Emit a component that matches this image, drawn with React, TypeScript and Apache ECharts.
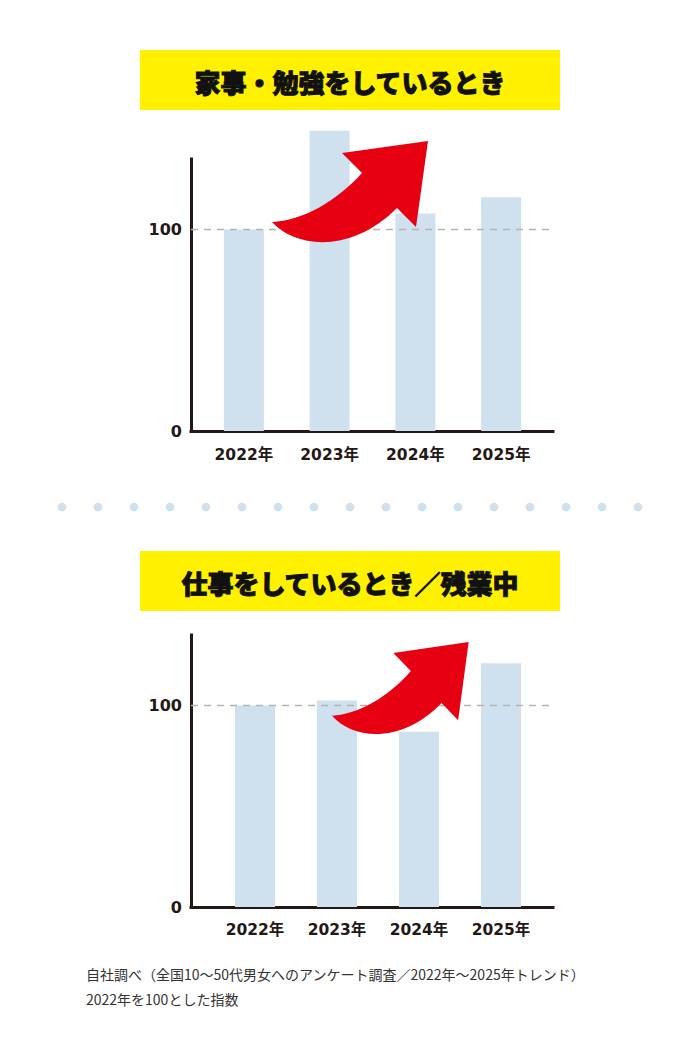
import { useEffect, useRef } from "react";
import * as echarts from "echarts";

const YEARS = ["2022年", "2023年", "2024年", "2025年"];
const STUDY_INDEX = [100, 149, 108, 116];
const WORK_INDEX = [100, 102.5, 87, 121];
const BASE_VALUE = 100;
const Y_MAX = 135;
const TITLES = ["家事・勉強をしているとき", "仕事をしているとき／残業中"];
const NOTES = [
  "自社調べ（全国10～50代男女へのアンケート調査／2022年～2025年トレンド）",
  "2022年を100とした指数",
];

const INK = "#231815";
const BAR = "#cfe0ee";
const RED = "#e60012";
const YELLOW = "#fff100";
const NUM_FONT = "'DejaVu Sans', 'Noto Sans CJK JP', sans-serif";
const JP_FONT = "'Noto Sans CJK JP', sans-serif";

// curved "rising" arrow, drawn in its own box (tip at top right)
const ARROW_D = "M0 81 C25 108 80 112 125 67 L144 86 L156 0 L70 12 L90 32 C65 60 30 80 0 81 Z";
echarts.graphic.registerShape("upArrow", echarts.graphic.extendPath(ARROW_D, {}));

// each panel: a frame grid for the axes and a narrower grid the bars sit in
const PANELS = [
  {
    title: TITLES[0], values: STUDY_INDEX, titleY: 50, top: 159, bottom: 607,
    barLeft: 201, barRight: 156, labelGap: 16, arrow: { x: 272, y: 141, sx: 1, sy: 1 },
  },
  {
    title: TITLES[1], values: WORK_INDEX, titleY: 551, top: 635, bottom: 131,
    barLeft: 214, barRight: 158, labelGap: 15, arrow: { x: 332, y: 642, sx: 0.876, sy: 0.91 },
  },
];

export default function App() {
  const ref = useRef<HTMLDivElement>(null);

  useEffect(() => {
    if (!ref.current) return;
    const chart = echarts.init(ref.current, null, { renderer: "svg" });

    const grid: any[] = [];
    const xAxis: any[] = [];
    const yAxis: any[] = [];
    const series: any[] = [];
    const graphic: any[] = [];

    PANELS.forEach((p, i) => {
      const frame = i * 2;
      const bars = i * 2 + 1;
      grid.push({ left: 191, right: 147, top: p.top, bottom: p.bottom });
      grid.push({ left: p.barLeft, right: p.barRight, top: p.top, bottom: p.bottom });

      xAxis.push({
        gridIndex: frame, type: "value", min: 0, max: 1,
        axisLine: { show: true, lineStyle: { color: INK, width: 3, cap: "square" } },
        axisTick: { show: false }, axisLabel: { show: false }, splitLine: { show: false },
      });
      xAxis.push({
        gridIndex: bars, type: "category", data: YEARS,
        axisLine: { show: false }, axisTick: { show: false },
        axisLabel: { color: INK, fontSize: 15.5, fontWeight: "bold", fontFamily: NUM_FONT, margin: p.labelGap },
      });
      yAxis.push({
        gridIndex: frame, type: "value", min: 0, max: Y_MAX, interval: 100,
        axisLine: { show: true, lineStyle: { color: INK, width: 3, cap: "square" } },
        axisTick: { show: false }, splitLine: { show: false },
        axisLabel: { color: INK, fontSize: 16, fontWeight: "bold", fontFamily: NUM_FONT, margin: 9, showMaxLabel: false },
      });
      yAxis.push({ gridIndex: bars, type: "value", min: 0, max: Y_MAX, show: false });

      series.push({
        type: "line", xAxisIndex: frame, yAxisIndex: frame, data: [], z: 1, silent: true,
        markLine: {
          symbol: "none", silent: true, label: { show: false },
          lineStyle: { color: "#b3b3b3", width: 1.3, type: [7, 6] },
          data: [{ yAxis: BASE_VALUE }],
        },
      });
      series.push({
        type: "bar", xAxisIndex: bars, yAxisIndex: bars, data: p.values, barWidth: 40,
        itemStyle: { color: BAR }, clip: false, z: 3,
      });

      graphic.push({
        type: "rect", shape: { x: 140, y: p.titleY, width: 420, height: 60 },
        style: { fill: YELLOW }, z: 50,
      });
      graphic.push({
        type: "text", x: 350, y: p.titleY + 31, z: 51,
        style: {
          text: p.title, fill: "#111", stroke: "#111", lineWidth: 0.9,
          fontSize: 26, fontWeight: 900, fontFamily: JP_FONT,
          textAlign: "center", textVerticalAlign: "middle",
        },
      });
      graphic.push({
        type: "upArrow", x: p.arrow.x, y: p.arrow.y, scaleX: p.arrow.sx, scaleY: p.arrow.sy,
        style: { fill: RED }, z: 60,
      });
    });

    for (let k = 0; k < 17; k++) {
      graphic.push({ type: "circle", shape: { cx: 62 + k * 36, cy: 507, r: 4.3 }, style: { fill: BAR }, z: 50 });
    }

    NOTES.forEach((t, k) => {
      graphic.push({
        type: "text", x: 86, y: 974 + k * 24.5, z: 50,
        style: { text: t, fill: "#333", fontSize: 14, fontFamily: JP_FONT, textVerticalAlign: "middle" },
      });
    });

    chart.setOption({ animation: false, grid, xAxis, yAxis, series, graphic });
    return () => chart.dispose();
  }, []);

  return <div ref={ref} style={{ position: "absolute", left: 0, top: 0, width: 700, height: 1038, background: "#fff" }} />;
}
